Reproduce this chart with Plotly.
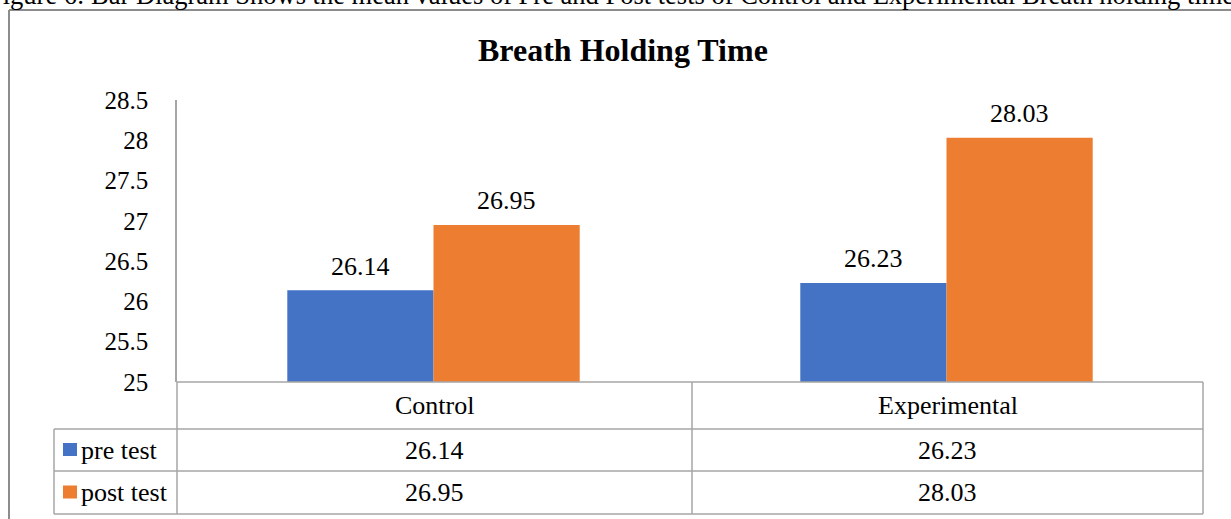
import plotly.graph_objects as go

# datos del gráfico
grupos = ["Control", "Experimental"]
pre_test = [26.14, 26.23]
post_test = [26.95, 28.03]
series = ["pre test", "post test"]
colores = ["#4472C4", "#ED7D31"]
ticks_y = [25, 25.5, 26, 26.5, 27, 27.5, 28, 28.5]
titulo = "Breath Holding Time"
leyenda_fig = ("Figure 6: Bar Diagram Shows the mean values of Pre and Post tests of "
               "Control and Experimental Breath holding time")

# ============================================================================
# geometría en pixeles -> coordenadas paper
# ============================================================================
W, H = 1231, 519
L, R, T, B = 177, 28, 100, 137
pw = W - L - R
ph = H - T - B
BARGAP = 0.43


def fx(px):
    return (px - L) / pw


def fy(py):
    return (H - B - py) / ph


FONT = "Times New Roman, Liberation Serif, serif"
GRIS = "#a6a6a6"
TAM = 26

fig = go.Figure()

shapes = []
annotations = []

ancho_barra = (1 - BARGAP) / 2
for k, (nombre, valores, color) in enumerate(zip(series, [pre_test, post_test], colores)):
    fig.add_trace(go.Bar(
        x=grupos,
        y=valores,
        name=nombre,
        marker=dict(color=color, line=dict(width=0)),
        hoverinfo="x+y+name",
    ))
    # etiquetas de datos sobre las barras
    desplaz = (k - 0.5) * ancho_barra
    for i, v in enumerate(valores):
        annotations.append(dict(text=f"{v:.2f}", xref="x", yref="y",
                                x=i + desplaz, y=v, yshift=24,
                                xanchor="center", yanchor="middle", showarrow=False,
                                font=dict(family=FONT, size=TAM, color="#000000")))

# borde del área del gráfico (izquierda y arriba)
shapes.append(dict(type="line", xref="paper", yref="paper",
                   x0=fx(9), x1=fx(W + 5), y0=fy(10), y1=fy(10),
                   line=dict(color="#8c8c8c", width=2)))
shapes.append(dict(type="line", xref="paper", yref="paper",
                   x0=fx(9), x1=fx(9), y0=fy(10), y1=fy(H + 5),
                   line=dict(color="#8c8c8c", width=2)))

# tabla de datos
x_izq, x_eje, x_div, x_der = 54, 177, 692, 1203
y_eje, y_f1, y_f2, y_fin = 382, 429, 471, 514

lineas = [
    (x_eje, y_eje, x_der, y_eje),
    (x_izq, y_f1, x_der, y_f1),
    (x_izq, y_f2, x_der, y_f2),
    (x_izq, y_fin, x_der, y_fin),
    (x_izq, y_f1, x_izq, y_fin),
    (x_eje, y_eje, x_eje, y_fin),
    (x_div, y_eje, x_div, y_fin),
    (x_der, y_eje, x_der, y_fin),
]
for x0, y0, x1, y1 in lineas:
    shapes.append(dict(type="line", xref="paper", yref="paper",
                       x0=fx(x0), x1=fx(x1), y0=fy(y0), y1=fy(y1),
                       line=dict(color=GRIS, width=1.5)))

centros_x = [(x_eje + x_div) / 2, (x_div + x_der) / 2]
for g, cx in zip(grupos, centros_x):
    annotations.append(dict(text=g, xref="paper", yref="paper",
                            x=fx(cx), y=fy((y_eje + y_f1) / 2),
                            xanchor="center", yanchor="middle",
                            showarrow=False, font=dict(family=FONT, size=TAM, color="#000000")))

filas_y = [(y_f1 + y_f2) / 2, (y_f2 + y_fin) / 2]
for nombre, valores, color, cy in zip(series, [pre_test, post_test], colores, filas_y):
    shapes.append(dict(type="rect", xref="paper", yref="paper",
                       x0=fx(63), x1=fx(77), y0=fy(cy - 7), y1=fy(cy + 6),
                       fillcolor=color, line=dict(width=0)))
    annotations.append(dict(text=nombre, xref="paper", yref="paper",
                            x=fx(79), y=fy(cy), xanchor="left", yanchor="middle",
                            showarrow=False, font=dict(family=FONT, size=TAM, color="#000000")))
    for v, cx in zip(valores, centros_x):
        annotations.append(dict(text=f"{v:.2f}", xref="paper", yref="paper",
                                x=fx(cx), y=fy(cy), xanchor="center", yanchor="middle",
                                showarrow=False, font=dict(family=FONT, size=TAM, color="#000000")))

# título
annotations.append(dict(text="<b>" + titulo + "</b>", xref="paper", yref="paper",
                        x=fx(623), y=fy(50), xanchor="center", yanchor="middle",
                        showarrow=False, font=dict(family=FONT, size=32, color="#000000")))

# leyenda de la figura (cortada arriba)
annotations.append(dict(text=leyenda_fig, xref="paper", yref="paper",
                        x=fx(-14), y=fy(12), xanchor="left", yanchor="bottom",
                        showarrow=False, font=dict(family=FONT, size=26.5, color="#000000")))

fig.update_layout(
    width=W,
    height=H,
    margin=dict(l=L, r=R, t=T, b=B, pad=0),
    paper_bgcolor="#ffffff",
    plot_bgcolor="#ffffff",
    barmode="group",
    bargap=BARGAP,
    bargroupgap=0,
    showlegend=False,
    shapes=shapes,
    annotations=annotations,
    xaxis=dict(showticklabels=False, ticks="", showgrid=False, zeroline=False,
               showline=False),
    yaxis=dict(range=[25, 28.5], tickvals=ticks_y,
               ticktext=[f"{t:g}" for t in ticks_y],
               showgrid=False, zeroline=False, showline=True,
               linecolor=GRIS, linewidth=1.5, ticks="", ticklabelstandoff=22,
               tickfont=dict(family=FONT, size=25, color="#000000")),
)

fig.write_html("out.html", config={"displayModeBar": False},
               post_script="document.body.style.margin='0';")
